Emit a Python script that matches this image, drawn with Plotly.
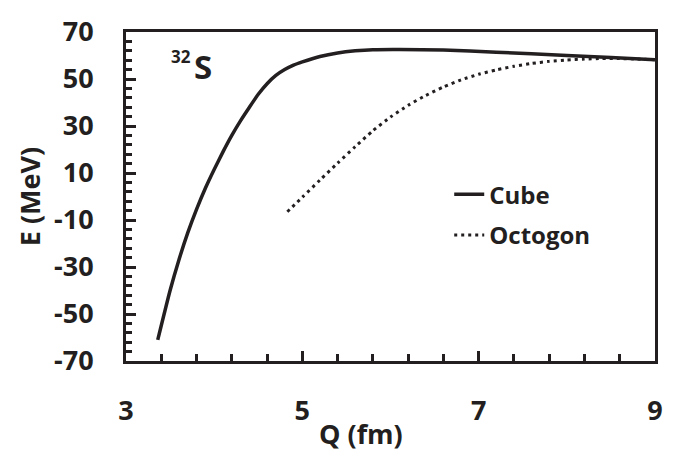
import plotly.graph_objects as go

# Data
cube_q = [3.36, 3.5, 3.6, 3.7, 3.8, 3.9, 4.0, 4.1, 4.2, 4.3, 4.4, 4.5, 4.6, 4.7, 4.8, 4.9, 5.0,
          5.2, 5.4, 5.6, 5.8, 6.1, 6.6, 7.2, 8.0, 8.5, 9.0]
cube_e = [-61, -40, -27, -15.5, -5.5, 3.5, 11.5, 19, 26, 32.3, 38, 43.5, 48, 51.5, 54, 55.9, 57.3,
          59.6, 61.1, 62.0, 62.5, 62.6, 62.3, 61.4, 60.0, 59.2, 58.2]

oct_q = [4.83, 5.0, 5.2, 5.4, 5.6, 5.8, 6.0, 6.2, 6.4, 6.6, 6.8, 7.0, 7.2, 7.4, 7.6, 7.8, 8.0,
         8.2, 8.4, 8.6, 8.8, 9.0]
oct_e = [-6.5, -0.3, 7.0, 14.2, 21.2, 28.0, 33.8, 38.8, 43.0, 46.6, 49.6, 52.0, 53.9, 55.4, 56.6,
         57.5, 58.1, 58.5, 58.7, 58.7, 58.5, 58.2]

x_ticks = [3, 5, 7, 9]
y_ticks = [-70, -50, -30, -10, 10, 30, 50, 70]

INK = "#231F20"
FONT = "Open Sans"
TICKFONT = dict(family=FONT, size=27, color=INK, weight="bold")

fig = go.Figure()
fig.add_trace(go.Scatter(x=cube_q, y=cube_e, mode="lines", name="Cube",
                         line=dict(color=INK, width=3.5, shape="spline", smoothing=0.5),
                         legend="legend"))
fig.add_trace(go.Scatter(x=oct_q, y=oct_e, mode="lines", name="Octogon",
                         line=dict(color=INK, width=3, dash="3px,4px", shape="spline", smoothing=0.5),
                         legend="legend2"))
# invisible helper trace so the label-only axis is drawn
fig.add_trace(go.Scatter(x=cube_q, y=cube_e, mode="lines", yaxis="y2", showlegend=False,
                         hoverinfo="skip", line=dict(color="rgba(0,0,0,0)", width=0)))

axis_common = dict(
    showgrid=False, zeroline=False, showline=True, linecolor=INK, linewidth=3,
    mirror=True, ticks="inside", ticklen=10, tickwidth=2.7, tickcolor=INK,
    tickfont=TICKFONT,
)

fig.update_xaxes(range=[3, 9], tickvals=x_ticks, ticktext=[str(v) for v in x_ticks],
                 minor=dict(dtick=0.4, tick0=3, ticks="inside", ticklen=7, tickwidth=2.5, tickcolor=INK),
                 ticklabelstandoff=24, **axis_common)

fig.update_layout(
    yaxis=dict(range=[-70, 70], tickvals=y_ticks, showticklabels=False,
               minor=dict(dtick=4, tick0=-70, ticks="inside", ticklen=6, tickwidth=2.5, tickcolor=INK),
               **axis_common),
    yaxis2=dict(range=[-70, 70], overlaying="y", side="left", anchor="x",
                tickvals=y_ticks, ticktext=[str(v) for v in y_ticks],
                ticks="outside", ticklen=26, tickcolor="rgba(0,0,0,0)",
                showline=False, showgrid=False, zeroline=False, tickfont=TICKFONT),
)

legend_common = dict(font=dict(family=FONT, size=24, color=INK, weight="bold"),
                     bgcolor="rgba(0,0,0,0)", borderwidth=0, xanchor="left", yanchor="middle",
                     itemwidth=30)
fig.update_layout(
    width=675, height=451,
    margin=dict(l=126, r=18, t=21, b=90),
    paper_bgcolor="white", plot_bgcolor="white",
    showlegend=True,
    legend=dict(x=0.611, y=(361 - 189) / 340.3, **legend_common),
    legend2=dict(x=0.611, y=(361 - 231) / 340.3, **legend_common),
    annotations=[
        dict(x=5.66, y=-0.221, xref="x", yref="paper", text="Q (fm)", showarrow=False,
             xanchor="center", yanchor="middle",
             font=dict(family=FONT, size=27, color=INK, weight="bold")),
        dict(x=-0.182, y=0.5, xref="paper", yref="paper", text="E (MeV)", showarrow=False,
             xanchor="center", yanchor="middle",
             textangle=-90, font=dict(family=FONT, size=27, color=INK, weight="bold")),
        dict(x=3.62, y=59.5, xref="x", yref="y", text="32", showarrow=False,
             xanchor="center", yanchor="middle",
             font=dict(family=FONT, size=17, color=INK, weight="bold")),
        dict(x=3.876, y=55.5, xref="x", yref="y", text="S", showarrow=False,
             xanchor="center", yanchor="middle",
             font=dict(family=FONT, size=33, color=INK, weight="bold")),
    ],
)

fig.write_html("out.html")
